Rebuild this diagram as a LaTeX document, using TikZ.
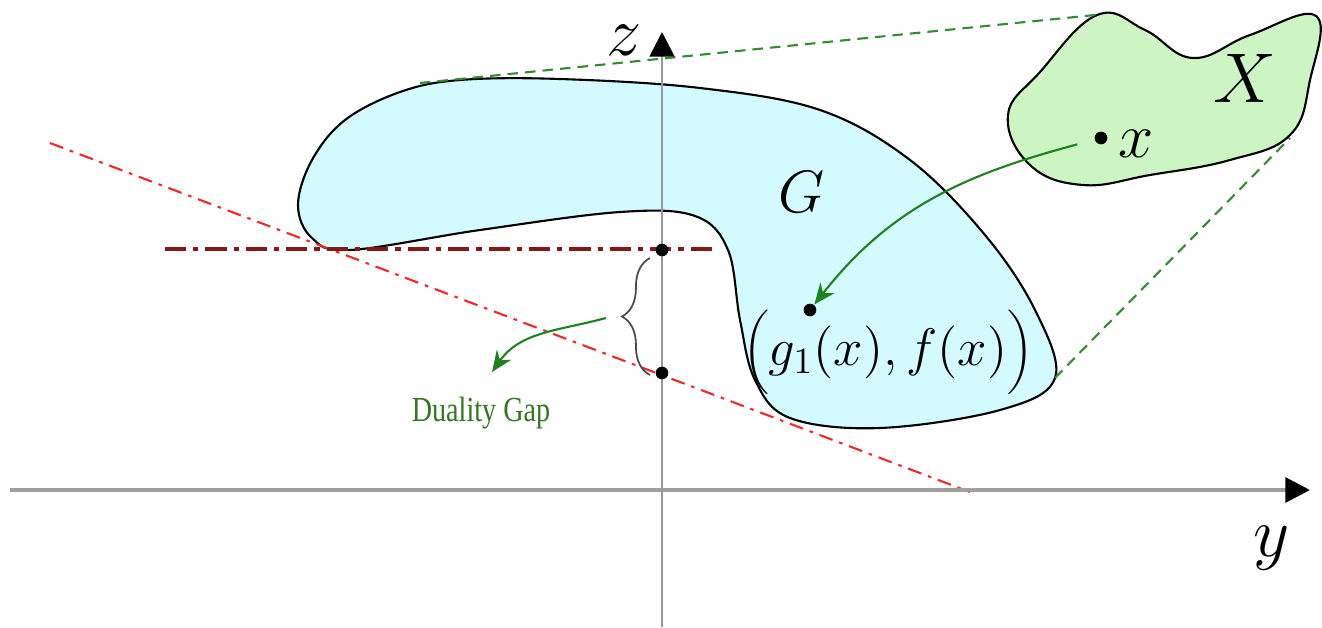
\RequirePackage{fix-cm}
\documentclass[tikz,border=0pt]{standalone}
\usepackage{fontspec}
\newfontfamily\gapfont{Liberation Serif}
\usetikzlibrary{arrows.meta}
\usetikzlibrary{decorations.pathreplacing}

\definecolor{gcyan}{RGB}{210,250,255}
\definecolor{xgreen}{RGB}{205,245,195}
\definecolor{tangreen}{RGB}{50,140,50}
\definecolor{arrgreen}{RGB}{30,130,30}
\definecolor{gaptext}{RGB}{50,120,30}
\definecolor{suppred}{RGB}{240,40,40}
\definecolor{lvlbrown}{RGB}{130,25,25}

\begin{document}
\begin{tikzpicture}[x=0.01cm, y=-0.01cm,
    blob/.style={draw=black, line width=0.6pt},
    axisline/.style={gray!75, line width=1.1pt, -{Triangle[black, length=7pt, width=7pt]}},
    tangent/.style={tangreen, line width=0.6pt, dash pattern=on 3pt off 2pt},
    flowarrow/.style={arrgreen, line width=0.6pt, -{Stealth[length=6pt, width=5pt]}},
    dotnode/.style={circle, fill=black, inner sep=0pt, minimum size=3.6pt},
    biglbl/.style={font=\fontsize{20}{24}\selectfont, inner sep=1pt}]

\useasboundingbox (0,0) rectangle (1322,627);

% --- 1. COORDINATES ---
\coordinate (yleft) at (10,490);
\coordinate (yright) at (1310,490);
\coordinate (zbot) at (662,627);
\coordinate (ztop) at (662,32);

\coordinate (gtop) at (420,83);
\coordinate (gcorner) at (1055,378);
\coordinate (xtop) at (1095,15);
\coordinate (xcorner) at (1290,138);

\coordinate (redA) at (50,143);
\coordinate (redB) at (970,492);
\coordinate (brownA) at (165,249);
\coordinate (brownB) at (715,249);

% --- 2. SETS G AND X ---
\def\gpts{(298,205) (312,160) (345,120) (400,92) (460,80) (560,79)
    (700,88) (820,110) (910,160) (985,235) (1035,310) (1055,378)
    (1000,410) (880,428) (790,418) (755,380) (740,320) (728,250)
    (695,216) (620,212) (480,230) (350,250) (312,238)}
\fill[gcyan] plot[smooth cycle, tension=0.6] coordinates {\gpts};
\draw[blob] plot[smooth cycle, tension=0.6] coordinates {\gpts};

\draw[blob, fill=xgreen] plot[smooth cycle, tension=0.7] coordinates {
    (1097,15) (1145,30) (1193,58) (1250,35) (1316,16) (1310,80)
    (1290,135) (1230,160) (1150,175) (1083,185) (1030,165)
    (1008,115) (1040,72)};

% tangent lines from X to G
\draw[tangent] (gtop) -- (xtop);
\draw[tangent] (gcorner) -- (xcorner);

% --- 3. SUPPORTING LINES ---
\draw[suppred, line width=0.6pt, dash pattern=on 4pt off 2pt on 1pt off 2pt] (redA) -- (redB);
\draw[lvlbrown, line width=0.9pt, dash pattern=on 6pt off 2pt on 1.5pt off 2pt] (brownA) -- (brownB);

% --- 4. AXES ---
\draw[axisline] (yleft) -- (yright);
\draw[axisline, gray!80, line width=0.8pt] (zbot) -- (ztop);
\node[biglbl] (lblz) at (624,40) {$z$};
\node[biglbl] (lbly) at (1272,548) {$y$};

% --- 5. POINTS AND LABELS ---
\node[font=\fontsize{17}{20}\selectfont] (lblG) at (802,192) {$G$};
\node[biglbl] (lblX) at (1245,78) {$X$};

\node[dotnode] (ptx) at (1101,138) {};
\node[font=\fontsize{18}{22}\selectfont] (lblx) at (1136,144) {$x$};

\node[dotnode] (ptg) at (810,310) {};
\node[font=\fontsize{15}{18}\selectfont] (lblpt) at (888,352) {$\biggl(g_1(x), f(x)\biggr)$};

\draw[flowarrow, shorten <=5pt] (ptx) to[out=195, in=52] (ptg);

% --- 6. DUALITY GAP ---
\node[dotnode] (dtop) at (662,250) {};
\node[dotnode] (dbot) at (662,373) {};
\coordinate (bracebot) at (650,375);
\coordinate (bracetop) at (650,258);
\draw[black!70, line width=0.5pt, decorate, decoration={brace, amplitude=8pt}] (bracebot) -- (bracetop);

\coordinate (gapstart) at (606,318);
\coordinate (gapend) at (492,372);
\draw[flowarrow] (gapstart) to[out=195, in=55] (gapend);
\node[gaptext, font=\gapfont\fontsize{10}{12}\selectfont, xscale=0.8] (lblgap) at (481,413) {Duality Gap};

\end{tikzpicture}
\end{document}
